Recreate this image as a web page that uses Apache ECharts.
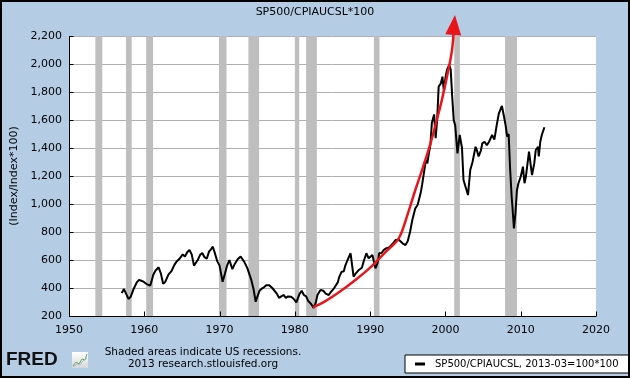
<!DOCTYPE html>
<html><head><meta charset="utf-8">
<script src="https://cdn.jsdelivr.net/npm/echarts@6/dist/echarts.min.js"></script>
<style>html,body{margin:0;padding:0;background:#B4CDE4;} #c{width:630px;height:378px;}</style>
</head><body><div id="c"></div>
<script>
const chartTitle = 'SP500/CPIAUCSL*100';
const seriesName = 'SP500/CPIAUCSL, 2013-03=100*100';
const yAxisName = '(Index/Index*100)';
const noteLines = ['Shaded areas indicate US recessions.', '2013 research.stlouisfed.org'];
const yTicks = [200,400,600,800,1000,1200,1400,1600,1800,2000,2200];
const xTicks = [1950,1960,1970,1980,1990,2000,2010,2020];

const years = [1957.0,1957.3,1957.5,1957.9,1958.2,1958.6,1959.0,1959.3,1959.6,1959.9,1960.3,1960.8,1961.2,1961.5,1961.9,1962.2,1962.5,1962.8,1963.2,1963.6,1964.0,1964.3,1964.7,1965.1,1965.4,1965.7,1966.0,1966.3,1966.6,1966.8,1967.1,1967.4,1967.7,1968.0,1968.3,1968.6,1968.9,1969.1,1969.3,1969.7,1970.0,1970.4,1970.7,1971.0,1971.3,1971.7,1972.0,1972.4,1972.8,1973.0,1973.3,1973.7,1974.2,1974.5,1974.8,1975.0,1975.3,1975.6,1975.9,1976.2,1976.6,1977.0,1977.2,1977.6,1977.9,1978.2,1978.5,1978.8,1979.1,1979.5,1979.8,1980.2,1980.6,1980.9,1981.2,1981.5,1981.8,1982.1,1982.5,1982.8,1983.0,1983.4,1983.8,1984.1,1984.5,1984.8,1985.2,1985.7,1985.9,1986.2,1986.5,1986.7,1987.0,1987.4,1987.6,1987.8,1988.1,1988.5,1988.9,1989.2,1989.5,1989.8,1990.0,1990.3,1990.5,1990.7,1991.0,1991.2,1991.5,1991.8,1992.1,1992.5,1992.9,1993.4,1993.8,1994.0,1994.3,1994.7,1995.0,1995.3,1995.6,1996.0,1996.3,1996.5,1996.7,1996.9,1997.1,1997.4,1997.6,1997.8,1998.0,1998.2,1998.5,1998.7,1998.9,1999.1,1999.4,1999.6,1999.8,2000.0,2000.2,2000.5,2000.7,2000.9,2001.1,2001.3,2001.6,2001.9,2002.2,2002.4,2002.6,2002.8,2003.0,2003.3,2003.6,2004.0,2004.2,2004.4,2004.7,2004.9,2005.2,2005.5,2005.8,2006.2,2006.5,2006.8,2007.1,2007.5,2007.8,2008.0,2008.2,2008.4,2008.6,2008.8,2008.9,2009.1,2009.3,2009.5,2009.7,2010.0,2010.3,2010.5,2010.7,2011.1,2011.3,2011.5,2011.8,2012.0,2012.3,2012.4,2012.6,2012.8,2013.0,2013.15];
const values = [365,392,398,322,338,395,440,458,452,445,428,418,495,525,548,505,430,445,495,520,565,590,610,640,625,655,671,640,560,548,600,635,650,620,610,660,680,695,662,590,560,445,500,560,600,535,570,605,625,630,585,540,460,395,302,335,380,395,405,420,420,400,386,360,330,340,350,330,340,338,325,297,355,380,350,340,305,290,258,300,350,386,380,360,350,372,398,440,480,515,520,560,600,648,659,481,505,529,545,600,648,612,600,636,630,540,580,648,650,671,683,690,710,743,745,731,719,707,735,800,886,969,993,1005,1076,1136,1148,1314,1290,1362,1420,1580,1640,1470,1600,1838,1862,1910,1802,1900,1957,1993,1960,1767,1600,1560,1362,1493,1400,1171,1160,1100,1064,1243,1300,1409,1380,1340,1380,1433,1445,1420,1445,1493,1460,1560,1648,1700,1620,1560,1481,1500,1243,1050,981,826,933,1100,1148,1195,1267,1148,1200,1374,1362,1207,1290,1386,1409,1340,1445,1493,1480,1548];

const arrowYears = [1982.4,1984.0,1986.0,1988.0,1990.0,1992.0,1993.8,1995.0,1996.0,1997.0,1998.0,1999.0,1999.6,2000.4,2000.9,2001.15];
const arrowValues = [262,305,375,455,545,655,755,930,1100,1260,1430,1630,1760,1960,2110,2279];

const recessionStarts = [1953.5,1957.58,1960.25,1969.92,1973.83,1980.0,1981.5,1990.5,2001.17,2007.92];
const recessionEnds   = [1954.42,1958.33,1961.17,1970.92,1975.25,1980.58,1982.92,1991.25,2001.92,2009.5];

const FONT = 'DejaVu Sans';
const X_MIN = 1950, X_MAX = 2020, Y_MIN = 200, Y_MAX = 2200;
const lineData = years.map((y, i) => [y, values[i]]);
const arrowData = arrowYears.map((y, i) => [y, arrowValues[i]]);
const lastArrow = arrowData.length - 1;
const bands = recessionStarts.map((s, i) => [s, recessionEnds[i]]);

const chart = echarts.init(document.getElementById('c'), null, {renderer: 'canvas'});
chart.setOption({
  animation: false,
  backgroundColor: '#B4CDE4',
  title: {text: chartTitle, left: 'center', top: 2, textStyle: {fontFamily: FONT, fontSize: 11, fontWeight: 'normal', color: '#000'}},
  grid: {left: 69, top: 36, right: 34, bottom: 62, containLabel: false},
  legend: {
    data: [seriesName], left: 405, top: 355, orient: 'horizontal',
    backgroundColor: '#fff', borderColor: '#000', borderWidth: 1, borderRadius: 0,
    padding: [4, 10, 4, 10], itemWidth: 10, itemHeight: 3, icon: 'rect',
    textStyle: {fontFamily: FONT, fontSize: 10, color: '#000', padding: [0, 0, 0, 5]}
  },
  xAxis: {
    type: 'value', min: X_MIN, max: X_MAX, interval: 10,
    axisLine: {show: false}, axisTick: {show: false},
    axisLabel: {fontFamily: FONT, fontSize: 11, color: '#000', margin: 9, formatter: v => String(v)},
    splitLine: {show: false}
  },
  yAxis: {
    type: 'value', min: Y_MIN, max: Y_MAX, interval: 200,
    name: yAxisName, nameLocation: 'middle', nameGap: 46, nameRotate: 90,
    nameTextStyle: {fontFamily: FONT, fontSize: 11, color: '#000'},
    axisLine: {show: false}, axisTick: {show: false},
    axisLabel: {fontFamily: FONT, fontSize: 11, color: '#000', margin: 7, formatter: v => v.toLocaleString('en-US')},
    splitLine: {show: false}
  },
  series: [
    {
      // white plot area + horizontal grid lines, drawn through the axis scales
      name: 'plot', type: 'custom', z: 1, silent: true, clip: false, data: [0],
      renderItem: (params, api) => {
        const tl = api.coord([X_MIN, Y_MAX]), br = api.coord([X_MAX, Y_MIN]);
        const kids = [{type: 'rect', shape: {x: tl[0], y: tl[1], width: br[0] - tl[0], height: br[1] - tl[1]}, style: {fill: '#ffffff'}}];
        yTicks.forEach(v => {
          const p = api.coord([X_MIN, v]); const y = Math.round(p[1]) + 0.5;
          kids.push({type: 'line', shape: {x1: tl[0], y1: y, x2: br[0], y2: y}, style: {stroke: '#AFAFAF', lineWidth: 1, fill: null}});
        });
        return {type: 'group', children: kids};
      }
    },
    {
      // recession bands
      name: 'recessions', type: 'custom', z: 2, silent: true, data: bands,
      renderItem: (params, api) => {
        const a = api.coord([api.value(0), Y_MAX]), b = api.coord([api.value(1), Y_MIN]);
        return {type: 'rect', shape: {x: a[0], y: a[1], width: b[0] - a[0], height: b[1] - a[1]}, style: {fill: '#BEBEBE'}};
      }
    },
    {
      // axis lines and inside ticks
      name: 'axes', type: 'custom', z: 5, silent: true, clip: false, data: [0],
      renderItem: (params, api) => {
        const o = api.coord([X_MIN, Y_MIN]), tr = api.coord([X_MAX, Y_MAX]);
        const L = Math.round(o[0]) + 0.5, B = Math.round(o[1]) + 0.5;
        const kids = [
          {type: 'line', shape: {x1: L, y1: tr[1], x2: L, y2: B}, style: {stroke: '#000', lineWidth: 1, fill: null}},
          {type: 'line', shape: {x1: L, y1: B, x2: tr[0], y2: B}, style: {stroke: '#000', lineWidth: 1, fill: null}}
        ];
        yTicks.forEach(v => { const p = api.coord([X_MIN, v]); const y = Math.round(p[1]) + 0.5;
          kids.push({type: 'line', shape: {x1: L, y1: y, x2: L + 4, y2: y}, style: {stroke: '#000', lineWidth: 1, fill: null}}); });
        xTicks.forEach(v => { const p = api.coord([v, Y_MIN]); const x = Math.round(p[0]) + 0.5;
          kids.push({type: 'line', shape: {x1: x, y1: B, x2: x, y2: B - 5}, style: {stroke: '#000', lineWidth: 1, fill: null}}); });
        return {type: 'group', children: kids};
      }
    },
    {
      name: seriesName, type: 'line', data: lineData, showSymbol: false, z: 3,
      lineStyle: {color: '#000', width: 2}, itemStyle: {color: '#000'}
    },
    {
      name: 'arrow', type: 'line', data: arrowData, smooth: 0.35, clip: false, z: 4,
      showSymbol: true,
      symbol: (v, p) => p.dataIndex === lastArrow ? 'triangle' : 'none',
      symbolSize: (v, p) => p.dataIndex === lastArrow ? [16, 20] : 0,
      symbolRotate: -5,
      lineStyle: {color: '#E8161B', width: 2.5}, itemStyle: {color: '#E8161B'}
    }
  ],
  graphic: [
    {type: 'text', left: 6, top: 350, style: {text: 'FRED', fontFamily: 'Liberation Sans', fontWeight: 'bold', fontSize: 19, fill: '#111'}},
    {type: 'rect', shape: {x: 72, y: 352, width: 16, height: 16}, style: {fill: {type: 'linear', x: 0, y: 0, x2: 0, y2: 1, colorStops: [{offset: 0, color: '#ffffff'}, {offset: 1, color: '#d8d8d8'}]}}},
    {type: 'polyline', shape: {points: [[73, 366], [76, 362], [79, 364], [82, 359], [85, 360], [87, 354]]}, style: {stroke: '#6aa84f', lineWidth: 1, fill: 'none'}},
    {type: 'polyline', shape: {points: [[73, 367], [77, 364], [80, 365], [83, 361], [87, 358]]}, style: {stroke: '#9fbfdf', lineWidth: 1, fill: 'none'}},
    {type: 'text', x: 203, y: 347, style: {text: noteLines[0], fontFamily: FONT, fontSize: 10.5, fill: '#000', align: 'center'}},
    {type: 'text', x: 203, y: 359, style: {text: noteLines[1], fontFamily: FONT, fontSize: 10.5, fill: '#000', align: 'center'}},
    {type: 'rect', shape: {x: 1, y: 1, width: 628, height: 376}, style: {fill: 'none', stroke: '#000', lineWidth: 2}, z: 100}
  ]
});
</script></body></html>
